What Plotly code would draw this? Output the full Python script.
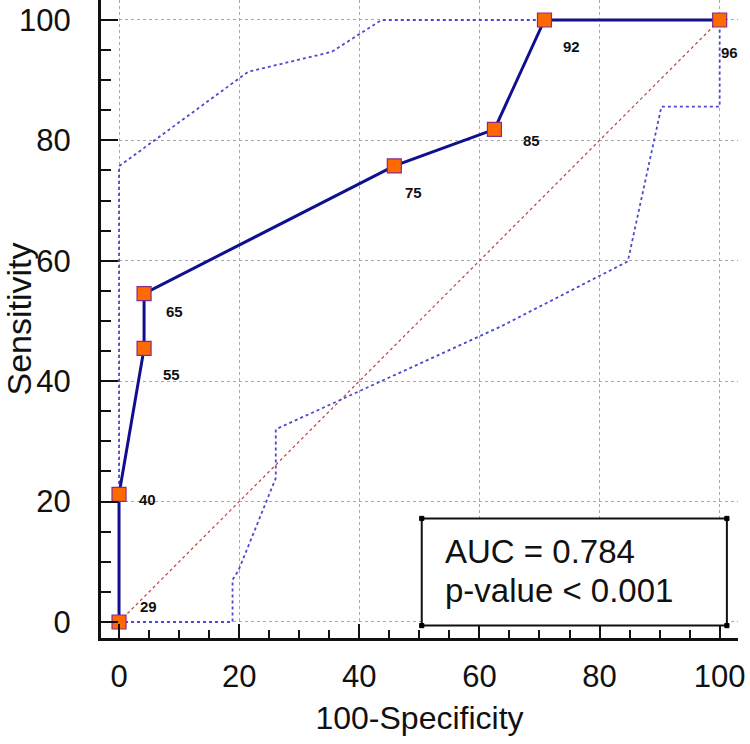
import plotly.graph_objects as go

# ROC curve points (100-Specificity, Sensitivity) and criterion labels
roc_x = [0, 0, 4.17, 4.17, 45.83, 62.5, 70.83, 100]
roc_y = [0, 21.21, 45.45, 54.55, 75.76, 81.82, 100, 100]
criterion_labels = ["29", "40", "55", "65", "75", "85", "92", "96"]

# 95% confidence bounds
upper_x = [0, 0, 21.5, 35.4, 43.7, 100]
upper_y = [0, 75.7, 91.4, 94.7, 100, 100]
lower_x = [0, 18.9, 18.9, 19.9, 26.1, 26.1, 63.4, 84.7, 90.3, 100, 100]
lower_y = [0, 0, 7.0, 8.6, 23.9, 32.0, 49.0, 59.9, 85.6, 85.6, 100]

# reference diagonal
diag_x = [0, 100]
diag_y = [0, 100]

auc_text = "AUC = 0.784"
p_text = "p-value < 0.001"

# label offsets in pixels (style)
label_shift = [(29, 15), (28, -5), (27, -26), (30, -18), (19, -27), (37, -11), (27, -27), (10, -33)]

FONT = "Liberation Sans, Arial, sans-serif"

fig = go.Figure()
fig.add_trace(go.Scatter(x=diag_x, y=diag_y, mode="lines",
                         line=dict(color="#b5443c", width=1.2, dash="dot"),
                         hoverinfo="skip", showlegend=False))
fig.add_trace(go.Scatter(x=upper_x, y=upper_y, mode="lines",
                         line=dict(color="#4a4ad0", width=1.8, dash="dot"),
                         showlegend=False))
fig.add_trace(go.Scatter(x=lower_x, y=lower_y, mode="lines",
                         line=dict(color="#4a4ad0", width=1.8, dash="dot"),
                         showlegend=False))
fig.add_trace(go.Scatter(x=roc_x, y=roc_y, mode="lines+markers",
                         line=dict(color="#0f0f8f", width=3),
                         marker=dict(symbol="square", size=14, color="#ff6a00",
                                     line=dict(color="#8a2a8a", width=1.2)),
                         cliponaxis=False, showlegend=False))

for xv, yv, lab, (dx, dy) in zip(roc_x, roc_y, criterion_labels, label_shift):
    fig.add_annotation(x=xv, y=yv, text="<b>" + lab + "</b>", showarrow=False,
                       xshift=dx, yshift=dy,
                       font=dict(family=FONT, size=15, color="#111111"))

# AUC box
fig.add_shape(type="rect", xref="x", yref="y", x0=50.4, x1=101.2, y0=-0.6, y1=17.2,
              line=dict(color="#111111", width=2), fillcolor="white", layer="above")
for cx, cy in [(50.4, -0.6), (50.4, 17.2), (101.2, -0.6), (101.2, 17.2)]:
    fig.add_shape(type="rect", xref="x", yref="y",
                  x0=cx - 0.35, x1=cx + 0.35, y0=cy - 0.35, y1=cy + 0.35,
                  line=dict(color="black", width=1), fillcolor="black", layer="above")
fig.add_annotation(x=53.9, y=11.7, text=auc_text, showarrow=False, xanchor="left",
                   font=dict(family=FONT, size=33, color="#111111"))
fig.add_annotation(x=53.9, y=5.3, text=p_text, showarrow=False, xanchor="left",
                   font=dict(family=FONT, size=33, color="#111111"))

axis_common = dict(
    showline=True, linecolor="#111111", linewidth=3,
    showgrid=True, gridcolor="#a8a8a8", gridwidth=1, griddash="dot",
    zeroline=False, ticks="inside", tickcolor="#111111", tickwidth=2,
    tickmode="array", tickvals=[0, 20, 40, 60, 80, 100],
    tickfont=dict(family=FONT, size=31, color="#111111"),
    mirror=False, automargin=False,
)

fig.update_layout(
    width=750, height=744,
    margin=dict(l=101, r=12, t=0, b=106),
    paper_bgcolor="white", plot_bgcolor="white",
    xaxis=dict(**axis_common, range=[-3.0, 103.05], ticklen=14, ticklabelstandoff=9,
               minor=dict(ticks="inside", ticklen=8, tickwidth=1.5, tickcolor="#111111",
                          dtick=5, showgrid=False),
               title=dict(text="100-Specificity", font=dict(family=FONT, size=32, color="#111111"),
                          standoff=14)),
    yaxis=dict(**axis_common, range=[-2.66, 103.32], ticklen=17, ticklabelstandoff=21,
               minor=dict(ticks="inside", ticklen=10, tickwidth=1.5, tickcolor="#111111",
                          dtick=5, showgrid=False),
               title=dict(text="Sensitivity", font=dict(family=FONT, size=34, color="#111111"),
                          standoff=0)),
    showlegend=False,
)

fig.write_html("out.html", config={"displayModeBar": False},
               post_script="document.body.style.margin='0px';")
